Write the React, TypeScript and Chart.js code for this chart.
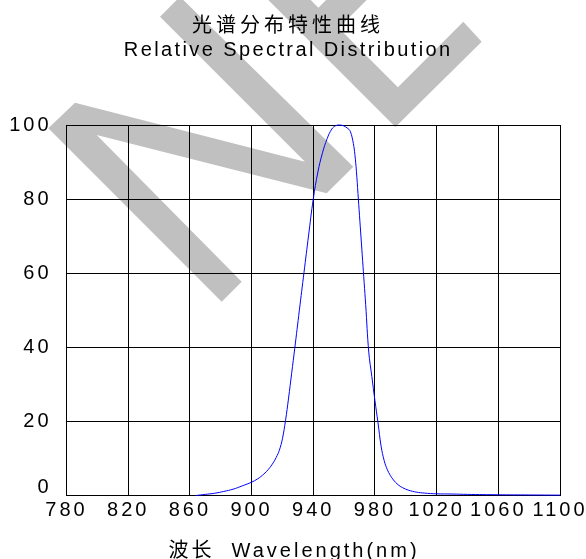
import React, { useEffect, useRef } from 'react';
import { Chart, registerables } from 'chart.js';

Chart.register(...registerables);

// ---- data ----
const wavelengths = [
  864, 870, 876, 882, 888, 894, 900, 904, 908, 911, 914, 916, 918, 920, 922, 924, 926, 928,
  931, 934, 937, 940, 943, 946, 949, 952, 954.5, 957, 959.5, 962, 964, 966, 967, 968, 969, 970,
  971, 972, 973, 974, 976, 978, 980, 982, 984, 986, 988, 990, 992, 995, 998, 1002, 1007, 1012,
  1020, 1030, 1040, 1060, 1080, 1100,
];
const intensities = [
  0, 0.3, 0.6, 1.1, 1.7, 2.6, 3.6, 4.5, 5.8, 7.1, 8.8, 10.3, 12.2, 15.3, 20.2, 26.3, 33, 39.7,
  50, 60.2, 70.3, 80, 87.3, 92.5, 96.3, 98.9, 99.8, 100, 99.8, 99.2, 98.3, 95, 92, 87.5, 81.5, 75.5,
  69.5, 63.5, 57.5, 51.5, 38.7, 32.1, 25.6, 19.6, 13.3, 9.4, 7.0, 5.4, 4.2, 2.9, 2.1, 1.4, 0.9, 0.65,
  0.45, 0.4, 0.3, 0.2, 0.15, 0.1,
];
const xTickValues = [780, 820, 860, 900, 940, 980, 1020, 1060, 1100];
const yTickValues = [0, 20, 40, 60, 80, 100];
const titleZh = '光谱分布特性曲线';
const titleEn = 'Relative Spectral Distribution';
const xAxisTitle = '波长  Wavelength(nm)';

const FONT = "'Liberation Sans', Arial, 'Noto Sans CJK SC', sans-serif";

// ---- decorative watermark (grey "NE" strokes behind the chart) ----
const watermarkShapes: number[][][] = [
  [
    [48.3, 128.3], [75, 102.7], [305, 161.7], [160, 16.7], [180, -3.3], [353.3, 166.7],
    [326.7, 193.3], [96.7, 135], [241.7, 281.7], [221.7, 301.7],
  ],
  [
    [263.3, -5], [395.4, 127.1], [481.7, 41.7], [463.3, 21.7], [397.9, 87.2], [338.7, 28],
    [371.7, -5], [331, -5], [318.4, 7.7], [305.7, -5],
  ],
];

const decorPlugin = {
  id: 'decor',
  beforeLayout(chart: any) {
    chart.ctx.letterSpacing = '3px';
  },
  beforeDraw(chart: any) {
    const ctx = chart.ctx;
    ctx.save();
    ctx.fillStyle = '#c0c0c0';
    for (const shape of watermarkShapes) {
      ctx.beginPath();
      shape.forEach(([x, y], i) => (i === 0 ? ctx.moveTo(x, y) : ctx.lineTo(x, y)));
      ctx.closePath();
      ctx.fill();
    }
    ctx.restore();
    ctx.letterSpacing = '3px';
  },
  afterDraw(chart: any) {
    const ctx = chart.ctx;
    const draw = (text: string, x: number, y: number, spacing: number) => {
      ctx.save();
      ctx.font = `20px ${FONT}`;
      ctx.fillStyle = '#000';
      ctx.textAlign = 'center';
      ctx.textBaseline = 'alphabetic';
      ctx.letterSpacing = `${spacing}px`;
      ctx.fillText(text, x + spacing / 2, y);
      ctx.restore();
    };
    draw(titleZh, 286, 31.5, 4);
    draw(titleEn, 287, 56, 2.4);
    draw(xAxisTitle, 292.5, 556.7, 3);
  },
};

export default function App() {
  const canvasRef = useRef<HTMLCanvasElement | null>(null);

  useEffect(() => {
    if (!canvasRef.current) return;
    const tickFont = { family: FONT, size: 20, lineHeight: 1 };
    const chart = new Chart(canvasRef.current, {
      type: 'line',
      data: {
        datasets: [
          {
            data: wavelengths.map((x, i) => ({ x, y: intensities[i] })),
            borderColor: '#0000ff',
            borderWidth: 1,
            pointRadius: 0,
            fill: false,
            tension: 0.4,
            clip: false as any,
          },
        ],
      },
      options: {
        animation: false,
        responsive: false,
        events: [],
        layout: { padding: { top: 125, left: 0, right: 0, bottom: 0 } },
        plugins: {
          legend: { display: false },
          title: { display: false },
          tooltip: { enabled: false },
        },
        scales: {
          x: {
            type: 'linear',
            min: xTickValues[0],
            max: xTickValues[xTickValues.length - 1],
            afterBuildTicks: (scale: any) => {
              scale.ticks = xTickValues.map((value) => ({ value }));
            },
            afterFit: (scale: any) => {
              scale.height = 63.5;
              scale.paddingLeft = 0;
              scale.paddingRight = 26;
            },
            grid: { color: '#000', lineWidth: 1, drawTicks: false },
            border: { display: true, color: '#000', width: 1 },
            ticks: {
              autoSkip: false,
              maxRotation: 0,
              minRotation: 0,
              padding: 4.5,
              color: '#000',
              font: tickFont,
              callback: (v: any) => String(v),
            },
          },
          y: {
            type: 'linear',
            min: yTickValues[0],
            max: yTickValues[yTickValues.length - 1],
            afterBuildTicks: (scale: any) => {
              scale.ticks = yTickValues.map((value) => ({ value }));
            },
            afterFit: (scale: any) => {
              scale.width = 66.5;
            },
            grid: { color: '#000', lineWidth: 1, drawTicks: false },
            border: { display: true, color: '#000', width: 1 },
            ticks: {
              padding: 15,
              color: '#000',
              font: (c: any) =>
                c.tick && c.tick.value === 0
                  ? { family: FONT, size: 20, lineHeight: 0.85 }
                  : tickFont,
              callback: (v: any) => (v === 0 ? ['0', ''] : String(v)),
            },
          },
        },
      },
      plugins: [decorPlugin],
    } as any);
    return () => chart.destroy();
  }, []);

  return (
    <div style={{ position: 'absolute', left: 0, top: 0, width: 586, height: 559, background: '#fff' }}>
      <canvas ref={canvasRef} width={586} height={559} style={{ width: 586, height: 559, display: 'block' }} />
    </div>
  );
}
